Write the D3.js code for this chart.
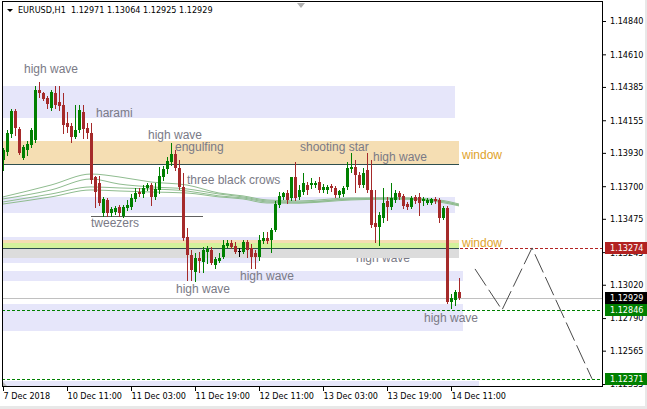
<!DOCTYPE html>
<html>
<head>
<meta charset="utf-8">
<script src="https://cdn.jsdelivr.net/npm/d3@7"></script>
<style>
  html, body { margin: 0; padding: 0; background: #ffffff; }
  svg { display: block; }
  .axis text, .hdr { font-family: Tahoma, "DejaVu Sans Condensed", "Liberation Sans Narrow", sans-serif; font-size: 9px; fill: #000; }
  .note { font-family: "Liberation Sans", Arial, sans-serif; font-size: 12px; }
</style>
</head>
<body>
<svg id="chart" width="647" height="409"></svg>
<script>
// EURUSD H1 candles, bar 0 = first bar on screen (7 Dec 2018)
const opens = [
  1.13881, 1.13936, 1.14060, 1.14219, 1.14095, 1.13895, 1.13950, 1.13984, 1.14019, 1.14364,
  1.14343, 1.14309, 1.14240, 1.14343, 1.14281, 1.14260, 1.14136, 1.14116, 1.14040, 1.14088,
  1.14212, 1.14102, 1.14067, 1.13764, 1.13722, 1.13515, 1.13605, 1.13515, 1.13522, 1.13557,
  1.13495, 1.13550, 1.13557, 1.13612, 1.13660, 1.13646, 1.13688, 1.13708, 1.13626, 1.13674,
  1.13764, 1.13819, 1.13867, 1.13922, 1.13826, 1.13695, 1.13350, 1.13225, 1.13108, 1.13205,
  1.13177, 1.13246, 1.13260, 1.13156, 1.13184, 1.13212, 1.13288, 1.13308, 1.13288, 1.13253,
  1.13246, 1.13315, 1.13274, 1.13239, 1.13212, 1.13322, 1.13343, 1.13329, 1.13398, 1.13570,
  1.13626, 1.13653, 1.13619, 1.13764, 1.13626, 1.13660, 1.13708, 1.13708, 1.13708, 1.13729,
  1.13674, 1.13674, 1.13702, 1.13688, 1.13639, 1.13646, 1.13695, 1.13819, 1.13833, 1.13777,
  1.13708, 1.13812, 1.13674, 1.13446, 1.13419, 1.13481, 1.13598, 1.13557, 1.13605, 1.13653,
  1.13633, 1.13577, 1.13557, 1.13626, 1.13626, 1.13598, 1.13584, 1.13584, 1.13612, 1.13605,
  1.13481, 1.13550, 1.12901, 1.12915, 1.12971
];
const highs = [
  1.13964, 1.14088, 1.14233, 1.14233, 1.14109, 1.13984, 1.14012, 1.14102, 1.14392, 1.14419,
  1.14350, 1.14323, 1.14364, 1.14392, 1.14392, 1.14343, 1.14212, 1.14136, 1.14260, 1.14260,
  1.14260, 1.14136, 1.14136, 1.13771, 1.13771, 1.13626, 1.13619, 1.13557, 1.13564, 1.13570,
  1.13570, 1.13605, 1.13646, 1.13688, 1.13688, 1.13708, 1.13722, 1.13722, 1.13722, 1.13833,
  1.13840, 1.13902, 1.13998, 1.13950, 1.13881, 1.13791, 1.13412, 1.13260, 1.13239, 1.13246,
  1.13281, 1.13288, 1.13281, 1.13212, 1.13239, 1.13329, 1.13329, 1.13329, 1.13315, 1.13274,
  1.13329, 1.13329, 1.13301, 1.13260, 1.13363, 1.13384, 1.13384, 1.13412, 1.13598, 1.13660,
  1.13660, 1.13674, 1.13764, 1.13867, 1.13708, 1.13791, 1.13729, 1.13757, 1.13736, 1.13764,
  1.13715, 1.13708, 1.13715, 1.13702, 1.13674, 1.13702, 1.13867, 1.13929, 1.13881, 1.13798,
  1.13826, 1.13929, 1.13881, 1.13674, 1.13522, 1.13688, 1.13626, 1.13722, 1.13674, 1.13667,
  1.13646, 1.13591, 1.13633, 1.13639, 1.13653, 1.13626, 1.13619, 1.13619, 1.13626, 1.13619,
  1.13564, 1.13564, 1.12956, 1.12984, 1.13064
];
const lows = [
  1.13812, 1.13915, 1.14040, 1.14053, 1.13922, 1.13888, 1.13915, 1.13971, 1.14005, 1.14316,
  1.14295, 1.14240, 1.14226, 1.14240, 1.14226, 1.14067, 1.14074, 1.14005, 1.14033, 1.14074,
  1.14033, 1.14033, 1.13722, 1.13557, 1.13570, 1.13495, 1.13495, 1.13495, 1.13508, 1.13495,
  1.13488, 1.13536, 1.13543, 1.13598, 1.13633, 1.13626, 1.13674, 1.13570, 1.13612, 1.13653,
  1.13743, 1.13791, 1.13846, 1.13812, 1.13681, 1.13329, 1.13053, 1.13053, 1.13046, 1.13108,
  1.13108, 1.13170, 1.13163, 1.13136, 1.13177, 1.13205, 1.13281, 1.13274, 1.13239, 1.13219,
  1.13239, 1.13212, 1.13136, 1.13136, 1.13191, 1.13308, 1.13308, 1.13246, 1.13391, 1.13557,
  1.13612, 1.13584, 1.13605, 1.13605, 1.13612, 1.13646, 1.13646, 1.13688, 1.13695, 1.13660,
  1.13660, 1.13653, 1.13667, 1.13626, 1.13626, 1.13633, 1.13681, 1.13798, 1.13660, 1.13695,
  1.13695, 1.13660, 1.13419, 1.13315, 1.13294, 1.13453, 1.13467, 1.13543, 1.13591, 1.13612,
  1.13550, 1.13543, 1.13550, 1.13584, 1.13501, 1.13570, 1.13577, 1.13577, 1.13584, 1.13453,
  1.13474, 1.12894, 1.12860, 1.12880, 1.12925
];
const closes = [
  1.13950, 1.14067, 1.14219, 1.14102, 1.13929, 1.13971, 1.13991, 1.14088, 1.14364, 1.14343,
  1.14302, 1.14267, 1.14350, 1.14260, 1.14254, 1.14122, 1.14109, 1.14040, 1.14088, 1.14226,
  1.14095, 1.14067, 1.13743, 1.13660, 1.13584, 1.13612, 1.13515, 1.13543, 1.13550, 1.13515,
  1.13557, 1.13570, 1.13619, 1.13653, 1.13646, 1.13688, 1.13708, 1.13626, 1.13681, 1.13771,
  1.13819, 1.13874, 1.13922, 1.13826, 1.13695, 1.13343, 1.13225, 1.13122, 1.13205, 1.13184,
  1.13260, 1.13267, 1.13170, 1.13198, 1.13205, 1.13294, 1.13308, 1.13281, 1.13246, 1.13253,
  1.13315, 1.13260, 1.13212, 1.13212, 1.13329, 1.13343, 1.13322, 1.13398, 1.13577, 1.13633,
  1.13653, 1.13605, 1.13764, 1.13619, 1.13674, 1.13722, 1.13674, 1.13722, 1.13722, 1.13674,
  1.13695, 1.13695, 1.13688, 1.13639, 1.13667, 1.13688, 1.13826, 1.13833, 1.13777, 1.13708,
  1.13791, 1.13674, 1.13432, 1.13419, 1.13501, 1.13584, 1.13557, 1.13619, 1.13653, 1.13626,
  1.13564, 1.13557, 1.13619, 1.13598, 1.13584, 1.13612, 1.13605, 1.13612, 1.13598, 1.13481,
  1.13550, 1.12901, 1.12929, 1.12970, 1.12929
];

// Time axis ticks (bar index -> label)
const timeTickBars = [0, 16, 32, 48, 64, 80, 96, 112];
const timeTickLabels = ["7 Dec 2018", "10 Dec 11:00", "11 Dec 03:00", "11 Dec 19:00",
                        "12 Dec 11:00", "13 Dec 03:00", "13 Dec 19:00", "14 Dec 11:00"];

// Price axis ticks
const priceTicks = [1.14840, 1.14610, 1.14385, 1.14155, 1.13930, 1.13700,
                    1.13475, 1.13245, 1.13020, 1.12790, 1.12565, 1.12335];

// Moving averages, sampled at these bars
const maBars = [0, 12, 22, 29, 37, 46, 54, 60, 66, 74, 87, 99, 109, 114];
const maFast = [1.13626, 1.13708, 1.13784, 1.13764, 1.13729, 1.13708, 1.13653, 1.13633, 1.13605, 1.13598, 1.13619, 1.13619, 1.13605, 1.13577];
const maMid1 = [1.13612, 1.13674, 1.13750, 1.13715, 1.13695, 1.13681, 1.13646, 1.13626, 1.13598, 1.13591, 1.13612, 1.13619, 1.13598, 1.13570];
const maMid2 = [1.13591, 1.13646, 1.13695, 1.13688, 1.13681, 1.13667, 1.13633, 1.13619, 1.13591, 1.13584, 1.13612, 1.13612, 1.13598, 1.13570];
const maSlow = [1.13577, 1.13626, 1.13674, 1.13667, 1.13660, 1.13653, 1.13626, 1.13612, 1.13584, 1.13584, 1.13605, 1.13612, 1.13591, 1.13564];

// Support / resistance zones: [kind, upper price, lower price, last bar]
const zones = [
  ["zone", 1.14392, 1.14171, 113],
  ["window", 1.14012, 1.13853, 114],
  ["zone", 1.13626, 1.13515, 113],
  ["zone", 1.13350, 1.13170, 64],
  ["zone", 1.13115, 1.13046, 115],
  ["zone", 1.12887, 1.12701, 115],
  ["zone", 1.12357, 1.12290, 119]
];
// Lower window gap, drawn in three layers
const gapZones = [
  ["window", 1.13329, 1.13274, 114],
  ["gap", 1.13308, 1.13274, 114],
  ["below", 1.13274, 1.13205, 114]
];
const windowEdges = [1.13853, 1.13274];   // dark edge lines of the windows
const tweezers = { from: 22, to: 50, price: 1.13495 };

// Pattern names: [text, bar, baseline price, kind]
const notes = [
  ["high wave", 5.25, 1.14478, "pattern"],
  ["harami", 23.25, 1.14178, "pattern"],
  ["high wave", 36.25, 1.14026, "pattern"],
  ["engulfing", 43, 1.13943, "pattern"],
  ["shooting star", 74.25, 1.13943, "pattern"],
  ["high wave", 92.5, 1.13874, "pattern"],
  ["window", 114.75, 1.13888, "window"],
  ["three black crows", 46, 1.13718, "pattern"],
  ["tweezers", 22, 1.13415, "pattern"],
  ["window", 114.75, 1.13281, "window"],
  ["high wave", 59.25, 1.13053, "pattern"],
  ["high wave", 43.25, 1.12960, "pattern"],
  ["high wave", 105.25, 1.12763, "pattern"]
];
const coveredNote = ["high wave", 88.25, 1.13177];

// Horizontal price levels
const bidPrice = 1.12929;
const levelPrices = [1.13274, 1.12846, 1.12371];
const levelStarts = [114, -1, -1];
const levelKinds = ["resist", "support", "support"];

// Projected path: [bar, price]
const projBars = [118, 124.75, 132.25, 147.25];
const projPrices = [1.13129, 1.12846, 1.13274, 1.12371];

// Right-edge price tags
const tagPrices = [1.13274, 1.12929, 1.12846, 1.12371];
const tagKinds = ["resist", "bid", "support", "support"];

// ---------- drawing ----------
const W = 647, H = 409;
const frame = { left: 2, top: 2, right: 602, bottom: 387 };
const svg = d3.select("#chart");

const x = d3.scaleLinear().domain([0, 150]).range([3, 603]);
const y = d3.scaleLinear().domain([1.12335, 1.14840]).range([384, 21]);

const colors = {
  zone: "#e6e6fa", window: "#f5deb3", gap: "#d4f29c", below: "#dcdcdc",
  edge: "#2f4f4f", ma: "#8fbc8f", up: "#008000", down: "#a52a2a", flat: "#000000",
  pattern: "#7a7a86", windowText: "#e0a22a", resist: "#b22222", support: "#008000", bid: "#000000"
};

svg.append("rect").attr("width", W).attr("height", H).attr("fill", "#fff");
svg.append("rect").attr("x", W - 2).attr("y", 0).attr("width", 2).attr("height", H).attr("fill", "#e8e8e8");
svg.append("rect").attr("x", 0).attr("y", H - 3).attr("width", W).attr("height", 3).attr("fill", "#e8e8e8");

svg.append("clipPath").attr("id", "plot")
  .append("rect").attr("x", frame.left + 1).attr("y", frame.top)
  .attr("width", frame.right - frame.left - 1).attr("height", frame.bottom - frame.top);

const plot = svg.append("g").attr("clip-path", "url(#plot)");
const px = v => Math.round(v);

// zones
plot.append("g").selectAll("rect").data(zones).join("rect")
  .attr("x", frame.left)
  .attr("y", d => px(y(d[1])))
  .attr("width", d => px(x(d[3])) - frame.left)
  .attr("height", d => px(y(d[2])) - px(y(d[1])))
  .attr("fill", d => colors[d[0]]);

plot.append("g").selectAll("rect").data(gapZones.slice(0, 2)).join("rect")
  .attr("x", frame.left)
  .attr("y", d => px(y(d[1])))
  .attr("width", d => px(x(d[3])) - frame.left)
  .attr("height", d => px(y(d[2])) - px(y(d[1])))
  .attr("fill", d => colors[d[0]]);

// pattern names
const noteG = plot.append("g");
noteG.selectAll("text").data(notes).join("text")
  .attr("class", "note")
  .attr("x", d => x(d[1]))
  .attr("y", d => y(d[2]))
  .attr("fill", d => d[3] === "window" ? colors.windowText : colors.pattern)
  .text(d => d[0]);
noteG.append("text").attr("class", "note")
  .attr("x", x(coveredNote[1])).attr("y", y(coveredNote[2]))
  .attr("fill", colors.pattern).text(coveredNote[0]);

// area below the lower window sits over its label
const low = gapZones[2];
plot.append("rect")
  .attr("x", frame.left).attr("y", px(y(low[1])))
  .attr("width", px(x(low[3])) - frame.left)
  .attr("height", px(y(low[2])) - px(y(low[1])))
  .attr("fill", colors.below);

// window edges
plot.append("g").selectAll("line").data(windowEdges).join("line")
  .attr("x1", frame.left).attr("x2", px(x(114)))
  .attr("y1", d => px(y(d)) + 0.5).attr("y2", d => px(y(d)) + 0.5)
  .attr("stroke", colors.edge).attr("stroke-width", 1);

// tweezers line
plot.append("line")
  .attr("x1", x(tweezers.from)).attr("x2", x(tweezers.to))
  .attr("y1", px(y(tweezers.price)) + 0.5).attr("y2", px(y(tweezers.price)) + 0.5)
  .attr("stroke", "#606060").attr("stroke-width", 1);

// moving averages
const maLine = d3.line().x(d => x(d[0])).y(d => y(d[1])).curve(d3.curveMonotoneX);
[maFast, maMid1, maMid2, maSlow].forEach(series => {
  plot.append("path")
    .attr("d", maLine(maBars.map((b, i) => [b, series[i]])))
    .attr("fill", "none").attr("stroke", colors.ma).attr("stroke-width", 1);
});

// bid line
plot.append("line")
  .attr("x1", frame.left).attr("x2", frame.right)
  .attr("y1", px(y(bidPrice)) + 0.5).attr("y2", px(y(bidPrice)) + 0.5)
  .attr("stroke", "#c0c0c0").attr("stroke-width", 1);

// dashed levels
plot.append("g").selectAll("line").data(levelPrices).join("line")
  .attr("x1", (d, i) => levelStarts[i] < 0 ? frame.left : x(levelStarts[i]) + 1)
  .attr("x2", frame.right)
  .attr("y1", d => px(y(d)) + 0.5).attr("y2", d => px(y(d)) + 0.5)
  .attr("stroke", (d, i) => colors[levelKinds[i]])
  .attr("stroke-width", 1).attr("stroke-dasharray", "3,2");

// projected path
plot.append("path")
  .attr("d", d3.line().x(d => x(d[0])).y(d => y(d[1]))(projBars.map((b, i) => [b, projPrices[i]])))
  .attr("fill", "none").attr("stroke", "#4a4a4a").attr("stroke-width", 1)
  .attr("stroke-dasharray", "20,5");

// candles
const bars = d3.range(opens.length).map(i => ({ i, o: opens[i], h: highs[i], l: lows[i], c: closes[i] }));
const barColor = d => d.c > d.o ? colors.up : (d.c < d.o ? colors.down : colors.flat);
const candles = plot.append("g").selectAll("g").data(bars).join("g");
candles.append("rect")
  .attr("x", d => px(x(d.i)))
  .attr("y", d => px(y(d.h)))
  .attr("width", 1)
  .attr("height", d => Math.max(1, px(y(d.l)) - px(y(d.h)) + 1))
  .attr("fill", barColor);
candles.append("rect")
  .attr("x", d => px(x(d.i)) - 1)
  .attr("y", d => px(y(Math.max(d.o, d.c))))
  .attr("width", 3)
  .attr("height", d => Math.max(1, px(y(Math.min(d.o, d.c))) - px(y(Math.max(d.o, d.c)))))
  .attr("fill", barColor);

// small chart markers
svg.append("path").attr("d", "M3,382 L3,387 L8,387 Z").attr("fill", "#b8b8b8");
svg.append("path").attr("d", "M297,3 L305,3 L301,8 Z").attr("fill", "#b0b0b0");

// frame
svg.append("rect")
  .attr("x", frame.left + 0.5).attr("y", frame.top - 0.5)
  .attr("width", frame.right - frame.left).attr("height", frame.bottom - frame.top)
  .attr("fill", "none").attr("stroke", "#000").attr("stroke-width", 1);

// price axis
const yAxis = d3.axisRight(y).tickValues(priceTicks).tickFormat(d3.format(".5f"))
  .tickSize(4).tickPadding(4);
const yg = svg.append("g").attr("class", "axis").attr("transform", `translate(${frame.right},0)`).call(yAxis);
yg.select(".domain").remove();
yg.selectAll("line").attr("stroke", "#000");

// time axis
const xAxis = d3.axisBottom(x).tickValues(timeTickBars).tickFormat((d, i) => timeTickLabels[i])
  .tickSize(4).tickPadding(2);
const xg = svg.append("g").attr("class", "axis").attr("transform", `translate(0,${frame.bottom})`).call(xAxis);
xg.select(".domain").remove();
xg.selectAll("line").attr("stroke", "#000");
xg.selectAll("text").attr("text-anchor", "start");

// price tags
const tags = svg.append("g").selectAll("g").data(tagPrices).join("g")
  .attr("transform", d => `translate(${frame.right + 3},${px(y(d))})`);
tags.append("rect").attr("x", 0).attr("y", -6).attr("width", 42).attr("height", 12)
  .attr("fill", (d, i) => colors[tagKinds[i]]);
tags.append("text").attr("class", "hdr").attr("x", 5).attr("y", 0).attr("dy", "0.34em")
  .style("fill", "#fff").text(d => d3.format(".5f")(d));

// header
svg.append("path").attr("d", "M7,9 L13,9 L10,12 Z").attr("fill", "#000");
svg.append("text").attr("class", "hdr").attr("x", 18).attr("y", 13)
  .attr("xml:space", "preserve").style("white-space", "pre")
  .text("EURUSD,H1  " + [opens, highs, lows, closes].map(a => d3.format(".5f")(a[a.length - 1])).join(" "));
</script>
</body>
</html>
